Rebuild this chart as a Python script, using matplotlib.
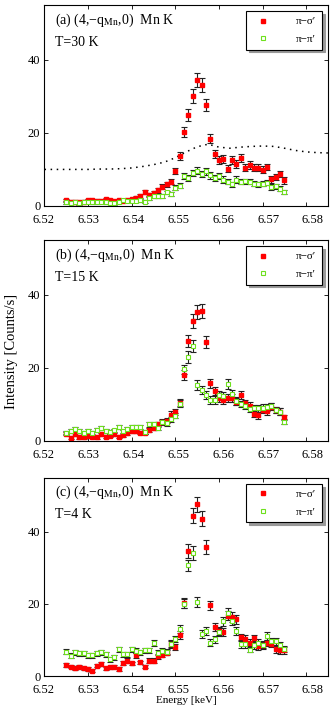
import numpy as np
import matplotlib
matplotlib.use("Agg")
import matplotlib.pyplot as plt
from matplotlib.lines import Line2D
from matplotlib.transforms import ScaledTranslation

plt.rcParams['font.family'] = ['Liberation Serif', 'DejaVu Serif']
plt.rcParams['mathtext.fontset'] = 'stix'

# photon energy of every scan point [keV]
energy = np.round(np.arange(6.525, 6.5755, 0.001), 3)

# (a) T=30 K
a_sig = [1.6, 1.2, 1.1, 1.0, 1.2, 1.5, 1.6, 1.4, 1.3, 1.9, 1.5, 1.3, 1.6, 1.4, 1.5,
         1.9, 2.1, 2.8, 3.8, 3.0, 3.6, 4.3, 5.3, 5.9, 6.6,
         9.6, 13.7, 20.2, 24.8, 30.2, 34.5, 33.2, 27.7, 18.4, 14.1, 12.7, 12.9, 10.2,
         12.5, 11.4, 13.2, 10.5, 11.3, 10.5, 10.5, 9.9, 10.7, 7.3, 7.9, 8.7, 7.0]
a_sig_err = [0.4, 0.4, 0.4, 0.4, 0.4, 0.4, 0.4, 0.4, 0.4, 0.4, 0.4, 0.4, 0.4, 0.4, 0.4,
             0.4, 0.5, 0.5, 0.5, 0.5, 0.5, 0.7, 0.7, 0.7, 0.7,
             0.9, 1.1, 1.3, 1.6, 1.9, 1.9, 1.9, 1.6, 1.3, 1.1, 1.1, 1.1, 0.9,
             1.1, 1.1, 1.1, 0.9, 1.1, 0.9, 0.9, 0.9, 0.9, 0.9, 0.9, 0.9, 0.9]
a_pi = [1.0, 0.9, 1.0, 0.7, 1.1, 1.2, 1.0, 1.0, 1.1, 1.0, 0.9, 0.8, 1.1, 1.5, 1.4,
        1.4, 1.4, 1.6, 1.2, 2.1, 2.6, 2.6, 2.7, 3.7, 3.3,
        5.0, 5.5, 8.2, 7.7, 9.0, 9.7, 8.8, 9.5, 8.4, 7.7, 8.2, 7.2, 6.6,
        5.9, 7.2, 6.6, 6.8, 6.6, 6.1, 5.9, 6.1, 6.3, 5.2, 5.4, 4.7, 3.8]
a_pi_err = [0.4, 0.4, 0.4, 0.4, 0.4, 0.4, 0.4, 0.4, 0.4, 0.4, 0.4, 0.4, 0.4, 0.4, 0.4,
            0.4, 0.4, 0.4, 0.4, 0.5, 0.5, 0.5, 0.5, 0.5, 0.5,
            0.7, 0.7, 0.9, 0.9, 0.9, 0.9, 0.9, 0.9, 0.9, 0.9, 0.9, 0.9, 0.7,
            0.7, 0.9, 0.7, 0.7, 0.7, 0.7, 0.7, 0.7, 0.7, 0.7, 0.7, 0.7, 0.5]

# fluorescence trace shown dotted in (a)
fl_energy = [6.520, 6.5225, 6.525, 6.5275, 6.530, 6.5325, 6.535, 6.5375, 6.540,
             6.5425, 6.545, 6.5475, 6.550, 6.5525, 6.555, 6.5575, 6.560, 6.5625,
             6.565, 6.5675, 6.570, 6.5725, 6.575, 6.5775, 6.580, 6.5825, 6.585]
fl_counts = [10.0, 10.0, 10.0, 10.0, 10.0, 10.1, 10.1, 10.2, 10.4,
             10.8, 11.3, 12.0, 13.2, 14.8, 16.2, 16.9, 16.1, 15.8,
             16.1, 16.3, 16.4, 16.3, 15.8, 15.2, 14.8, 14.6, 14.5]

# (b) T=15 K
b_sig = [2.0, 0.9, 1.8, 1.0, 1.0, 1.4, 1.2, 1.0, 1.9, 1.2, 1.4, 1.8, 1.2, 1.6, 2.1,
         2.8, 2.6, 2.3, 2.3, 3.0, 3.5, 4.6, 5.3, 5.6, 7.2,
         7.9, 10.5, 18.0, 27.3, 32.8, 35.3, 35.6, 27.1, 15.8, 13.6, 11.8, 11.3, 11.8,
         11.8, 10.8, 12.5, 10.4, 9.7, 7.4, 7.0, 8.6, 8.1, 9.4, 8.5, 8.0, 6.5]
b_sig_err = [0.4, 0.4, 0.4, 0.4, 0.4, 0.4, 0.4, 0.4, 0.4, 0.4, 0.4, 0.4, 0.4, 0.4, 0.5,
             0.5, 0.5, 0.5, 0.5, 0.5, 0.5, 0.7, 0.7, 0.7, 0.9,
             0.9, 0.9, 1.3, 1.6, 1.9, 1.9, 1.9, 1.6, 1.3, 1.1, 1.1, 1.1, 1.1,
             1.1, 0.9, 1.1, 0.9, 0.9, 0.9, 0.9, 0.9, 0.9, 0.9, 0.9, 0.9, 0.7]
b_pi = [2.3, 2.7, 3.2, 2.8, 2.3, 2.8, 2.3, 3.0, 3.6, 2.8, 2.4, 2.9, 3.9, 2.6, 3.2,
        3.9, 3.9, 3.9, 2.4, 4.6, 4.6, 3.5, 5.1, 4.8, 6.0,
        6.9, 10.2, 19.6, 22.9, 26.0, 15.3, 13.9, 12.7, 11.2, 11.2, 12.6, 12.3, 15.6,
        12.8, 11.0, 10.1, 9.6, 8.7, 8.9, 8.9, 9.1, 9.2, 9.6, 8.5, 8.0, 5.3]
b_pi_err = [0.5, 0.5, 0.5, 0.5, 0.5, 0.5, 0.5, 0.5, 0.5, 0.5, 0.5, 0.5, 0.5, 0.5, 0.5,
            0.5, 0.5, 0.5, 0.5, 0.7, 0.7, 0.5, 0.7, 0.7, 0.7,
            0.7, 0.9, 1.3, 1.6, 1.6, 1.3, 1.1, 1.1, 1.1, 1.1, 1.1, 1.1, 1.3,
            1.1, 1.1, 0.9, 0.9, 0.9, 0.9, 0.9, 0.9, 0.9, 0.9, 0.9, 0.9, 0.7]

# (c) T=4 K
c_sig = [3.1, 2.6, 2.3, 2.6, 2.1, 2.0, 1.5, 2.9, 3.3, 2.1, 2.4, 2.6, 2.0, 3.7, 4.3,
         3.5, 5.7, 3.8, 2.6, 4.2, 4.2, 5.5, 5.9, 6.5, 9.0,
         8.0, 11.3, 20.3, 34.7, 44.5, 47.7, 43.7, 35.8, 19.6, 13.6, 12.5, 12.2, 16.8,
         16.4, 15.7, 10.9, 10.4, 9.3, 10.6, 8.2, 8.5, 9.2, 8.9, 7.4, 7.1, 7.1]
c_sig_err = [0.5, 0.5, 0.5, 0.5, 0.5, 0.5, 0.4, 0.5, 0.5, 0.5, 0.5, 0.5, 0.5, 0.5, 0.7,
             0.5, 0.7, 0.5, 0.5, 0.7, 0.7, 0.7, 0.7, 0.7, 0.9,
             0.9, 1.1, 1.3, 1.9, 2.1, 2.1, 2.1, 1.9, 1.3, 1.1, 1.1, 1.1, 1.3,
             1.3, 1.3, 0.9, 0.9, 0.9, 0.9, 0.9, 0.9, 0.9, 0.9, 0.9, 0.9, 0.9]
c_pi = [6.7, 5.6, 6.6, 6.3, 6.3, 5.8, 5.7, 6.3, 6.6, 6.0, 4.7, 5.2, 7.4, 6.0, 6.1,
        7.4, 7.0, 6.6, 7.1, 7.1, 9.1, 6.5, 7.0, 6.8, 8.8,
        10.3, 13.0, 20.1, 30.7, 34.1, 20.5, 11.7, 12.4, 9.3, 10.2, 12.1, 15.2, 17.5,
        15.4, 12.6, 8.8, 8.8, 7.3, 8.5, 9.3, 8.7, 11.0, 9.6, 9.6, 8.5, 7.5]
c_pi_err = [0.7, 0.7, 0.7, 0.7, 0.7, 0.7, 0.7, 0.7, 0.7, 0.7, 0.7, 0.7, 0.7, 0.7, 0.7,
            0.7, 0.7, 0.7, 0.7, 0.7, 0.9, 0.7, 0.7, 0.7, 0.9,
            0.9, 1.1, 1.3, 1.6, 1.9, 1.3, 1.1, 1.1, 0.9, 0.9, 1.1, 1.3, 1.3,
            1.3, 1.1, 0.9, 0.9, 0.7, 0.9, 0.9, 0.9, 1.1, 0.9, 0.9, 0.9, 0.7]

panel_labels = ['(a)', '(b)', '(c)']
temps = ['T=30 K', 'T=15 K', 'T=4 K']
xticks = [6.52, 6.53, 6.54, 6.55, 6.56, 6.57, 6.58]
yticks = [0, 20, 40]

RED = '#ff0000'
GREEN = '#6ee01e'

fig = plt.figure(figsize=(3.32, 7.09), dpi=100)
boxes = [[0.134, 0.7095, 0.854, 0.2835],
         [0.134, 0.378, 0.854, 0.2835],
         [0.134, 0.0465, 0.854, 0.2795]]
data = [(a_sig, a_sig_err, a_pi, a_pi_err),
        (b_sig, b_sig_err, b_pi, b_pi_err),
        (c_sig, c_sig_err, c_pi, c_pi_err)]

for i, (sig, sig_e, pi, pi_e) in enumerate(data):
    ax = fig.add_axes(boxes[i])
    if i == 0:
        ax.plot(fl_energy, fl_counts, color='black', lw=1.1, ls=(0, (1, 3)))
    ax.errorbar(energy, sig, yerr=sig_e, fmt='s', ms=3.3, mfc=RED, mec=RED,
                ecolor='#222222', elinewidth=0.8, capsize=2.2, capthick=0.8)
    ax.errorbar(energy, pi, yerr=pi_e, fmt='s', ms=3.3, mfc='white', mec=GREEN,
                mew=0.8, ecolor='#222222', elinewidth=0.8, capsize=2.2, capthick=0.8)
    ax.set_xlim(6.52, 6.585)
    ax.set_ylim(0, 55)
    ax.set_xticks(xticks)
    ax.set_xticklabels(['%.2f' % t for t in xticks])
    ax.set_yticks(yticks)
    ax.tick_params(direction='in', top=True, right=True, labelsize=9, length=3,
                   width=0.6)
    ax.tick_params(axis='x', pad=5.5)
    ax.tick_params(axis='y', pad=3)
    # the original's tick labels sit a little wider apart than the ticks
    for k, lbl in enumerate(ax.get_xticklabels()):
        shift = ScaledTranslation((k * 1.2 - 0.5) / 100.0, 0, fig.dpi_scale_trans)
        lbl.set_transform(lbl.get_transform() + shift)
    for s in ax.spines.values():
        s.set_linewidth(0.8)
    ax.text(0.037, 0.925, panel_labels[i] + ' (4,\u2212q$_{\\rm Mn}$,0)  Mn K',
            transform=ax.transAxes, fontsize=10, va='center', ha='left')
    ax.text(0.037, 0.815, temps[i], transform=ax.transAxes, fontsize=10,
            va='center', ha='left')
    handles = [Line2D([], [], ls='none', marker='s', ms=3.3, mfc=RED, mec=RED),
               Line2D([], [], ls='none', marker='s', ms=3.3, mfc='white',
                      mec=GREEN, mew=0.8)]
    leg = ax.legend(handles, ['\u03c0\u2212\u03c3\u2032', '\u03c0\u2212\u03c0\u2032'],
                    loc='upper right', fontsize=8, frameon=True, fancybox=False,
                    shadow={'color': '#999999', 'alpha': 1.0}, edgecolor='black',
                    framealpha=1, handlelength=2.0, handletextpad=2.0,
                    borderpad=0.5, labelspacing=0.7, borderaxespad=0.55)
    leg.get_frame().set_linewidth(0.8)
    if i == 2:
        ax.set_xlabel('Energy [keV]', fontsize=8, labelpad=0)

fig.text(0.035, 0.505, 'Intensity [Counts/s]', rotation=90, fontsize=10.5,
         ha='center', va='center')

fig.savefig('out.png', dpi=100)
